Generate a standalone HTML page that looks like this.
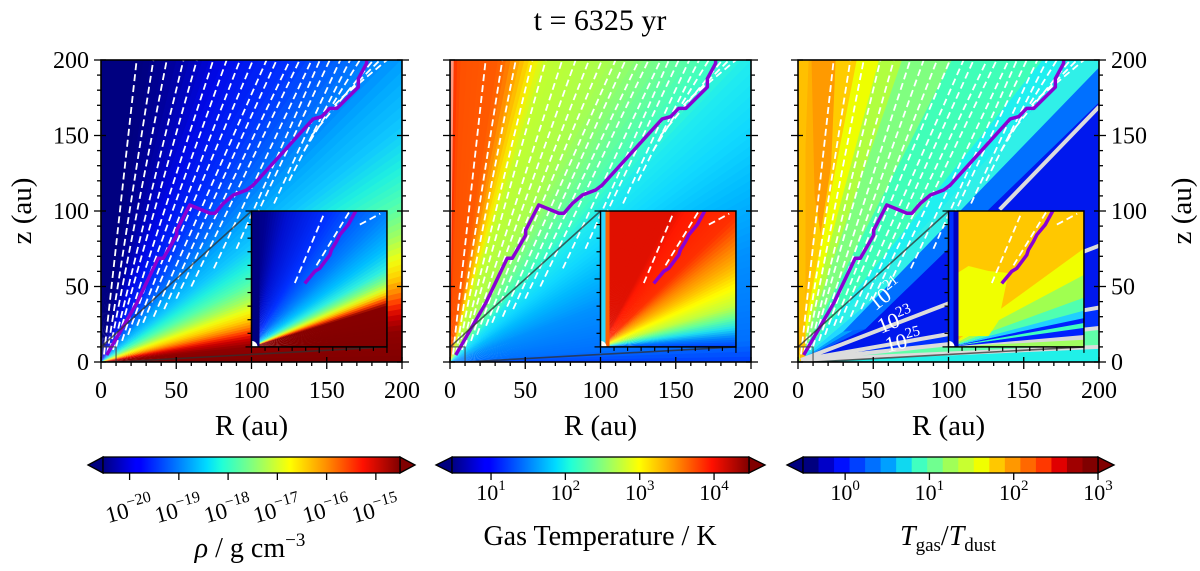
<!DOCTYPE html>
<html><head><meta charset="utf-8"><style>
html,body{margin:0;padding:0;background:#fff;}
svg{display:block;font-family:"Liberation Serif",serif;}
</style></head><body>
<svg id="fig" width="1200" height="571" viewBox="0 0 1200 571" xmlns="http://www.w3.org/2000/svg">
<defs id="defs"></defs>
<text x="600" y="30" font-size="30" text-anchor="middle">t = 6325 yr</text>
<g id="root"></g>
</svg>
<script>
// ---- data ----
const purpleR=[3.8,23.7,38,41.4,50.3,50.3,59,72.4,75.7,81.3,88,96.8,101,141,146.7,152,156.7,171,171,176.5,176.5];
const purpleZ=[4.6,38.9,68.7,68.7,84,87.4,104,98.5,98.5,105,110.6,113.9,117,161,162.5,168,168,182,187.6,197.8,200];
const insetPurpleR=[3.93,4.67,5.04,5.78,5.9,6.27,6.52,7.14,7.75];
const insetPurpleZ=[4.67,5.56,5.78,6.77,7.14,7.75,8.25,8.99,10.1];
const streamStartR=[2,4,6,8,10,14,18,24,28,35,42,50,60,75,90,100,115,125,135,140,150,160];
const streamStartZ=[5,5,8,8,10,14,18,24,26,30,35,42,50,62,75,90,105,120,140,150,165,175];
const streamEndR=[23.7,34.8,43.7,54.8,63.7,74.6,83.5,92.4,101,110,116.7,125.6,132,140,145.5,152,159,165.5,172,181,185.4,190];
const insetStreamR0=[3.2,4.8,8.0],insetStreamZ0=[4.7,6.0,9.0],insetStreamR1=[5.4,7.2,9.5],insetStreamZ1=[9.9,9.9,9.8];
const axisTicks=[0,50,100,150,200];
const cb1Exp=[-20,-19,-18,-17,-16,-15];
const cb2Exp=[1,2,3,4];
const cb3Exp=[0,1,2,3];
const cb3Bands=['#00007f','#0000c8','#0010ff','#0040ff','#0070ff','#00a0ff','#10d8f0','#40ffc0','#70ff90','#a0ff58','#c8ff30','#f0ff00','#ffc800','#ff9800','#ff6800','#ff3800','#e00000','#a00000','#800000'];
// ---- geometry ----
const PL=[101,450,798], PW=301, PT=60, PB=362;
const NS='http://www.w3.org/2000/svg';
const root=document.getElementById('root'), defs=document.getElementById('defs');
function X(p,R){return PL[p]+R*PW/200;}
function Y(z){return PB-z*(PB-PT)/200;}
function el(t,a,parent){const e=document.createElementNS(NS,t);for(const k in a)e.setAttribute(k,a[k]);(parent||root).appendChild(e);return e;}
function hex(c){return [parseInt(c.substr(1,2),16),parseInt(c.substr(3,2),16),parseInt(c.substr(5,2),16)];}
function mix(a,b,t){const A=hex(a),B=hex(b);return 'rgb('+A.map((v,i)=>Math.round(v+(B[i]-v)*t)).join(',')+')';}
function wedgeSmooth(g,ox,oy,pts,rad){
  for(let i=0;i<pts.length-1;i++){
    const [a0,c0]=pts[i],[a1,c1]=pts[i+1];
    const n=Math.max(1,Math.ceil((a1-a0)/1.2));
    for(let k=0;k<n;k++){
      const s=a0+(a1-a0)*k/n, e=a0+(a1-a0)*(k+1)/n+0.3;
      wedge(g,ox,oy,s,e,mix(c0,c1,(k+0.5)/n),rad);
    }
  }
}
function wedge(g,ox,oy,a0,a1,col,rad){
  const r0=a0*Math.PI/180,r1=a1*Math.PI/180;
  const p=el('polygon',{points:`${ox},${oy} ${ox+rad*Math.cos(r0)},${oy-rad*Math.sin(r0)} ${ox+rad*Math.cos(r1)},${oy-rad*Math.sin(r1)}`,fill:col},g);
  
  
}
function clip(id,x,y,w,h){const c=el('clipPath',{id:id},defs);el('rect',{x:x,y:y,width:w,height:h},c);}

const panelStops=[
 [[0,'#800000'],[6,'#900000'],[9,'#d00000'],[11,'#ff3000'],[13,'#ff8000'],[16,'#ffd000'],[19,'#f0ff10'],[23,'#a0ff60'],[28,'#50ffb0'],[33,'#20f0e0'],[38,'#10c8ff'],[44,'#00a8ff'],[50,'#0070ff'],[58,'#0030ff'],[68,'#0008e8'],[76,'#0000a0'],[82,'#000080'],[90,'#000080']],
 [[0,'#0040ff'],[4,'#0070ff'],[20,'#0090ff'],[30,'#00b8ff'],[38,'#10d8ff'],[45,'#20ecf0'],[49,'#40ffc0'],[55,'#70ff90'],[62,'#a8ff50'],[72,'#c0ff30'],[74.5,'#f8f000'],[77,'#ffb000'],[79.5,'#ff7000'],[81,'#ff5a00'],[88,'#ff5000'],[89.3,'#ff3000'],[90,'#ffffff']],
 null];
const p3Seg=[[0,3,'#20f0e8'],[3,6.4,'#60ffa8'],[6.4,10,'#0030ff'],[10,26,'#0018ee'],[26,30,'#0060ff'],[30,34,'#00a0ff'],[34,40,'#20d8ff'],[40,47,'#30f0e8'],[47,51,'#20f0f0'],[51,63,'#40ffb8'],[63,71,'#80ff80'],[71,75,'#b0ff40'],[75,79,'#eeff00'],[79,83,'#ffcc00'],[83,88,'#ffb000'],[88,90,'#ffc000']];
const insetStops=[
 [[0,'#800000'],[17,'#880000'],[19,'#ff4000'],[21,'#ffc000'],[23,'#e0ff20'],[26,'#80ff80'],[30,'#30f0e0'],[36,'#00c0ff'],[45,'#0080ff'],[60,'#0030ff'],[75,'#0010d0'],[84,'#000090'],[90,'#000080']],
 [[0,'#0040ff'],[4,'#0080ff'],[8,'#20e0f0'],[12,'#60ffa0'],[17,'#c0ff40'],[24,'#ffff00'],[30,'#ffc000'],[37,'#ff8000'],[44,'#ff3000'],[58,'#ff1800'],[62,'#e01000'],[88,'#e01000'],[89,'#e01000'],[90,'#e01000']],
 null];
const in3Seg=[[0,3,'#a0ff60'],[3,5,'#d8d8d8'],[5,8,'#0020ff'],[8,10,'#40ffc0'],[10,12,'#0020ff'],[12,15,'#20d0ff'],[15,20,'#50ffb0'],[20,28,'#a0ff50'],[28,36,'#f0ff00'],[36,90,'#ffc800']];

for(let p=0;p<3;p++){
  const g=el('g',{'clip-path':`url(#pc${p})`});
  
  
  clip('pc'+p,PL[p],PT,PW,PB-PT);
  const ox=X(p,0),oy=Y(0);
  if(panelStops[p]) wedgeSmooth(g,ox,oy,panelStops[p],700);
  else {
    p3Seg.forEach(s=>wedge(g,ox,oy,s[0],s[1]+0.3,s[2],700));
    const bl=[[30,20],[200,195],[200,172],[45,22]].map(q=>X(p,q[0])+','+Y(q[1])).join(' ');
    el('polygon',{points:bl,fill:'#0070ff'},g);
    const bb=[[45,17],[45,22],[200,172],[200,77]].map(q=>X(p,q[0])+','+Y(q[1])).join(' ');
    el('polygon',{points:bb,fill:'#0018ee'},g);
    // orange tapered strip near axis
    const os=[[9,200],[25,200],[22,130],[15,85],[11,110]].map(q=>X(p,q[0])+','+Y(q[1])).join(' ');
    el('polygon',{points:os,fill:'#ff9a00'},g);
    el('rect',{x:X(p,1),y:Y(200),width:4*PW/200,height:200*(PB-PT)/200,fill:'#ffc000'},g);
    // contour lines
    const cl=[[200,77],[200,36],[200,22.5],[200,10]];
    cl.forEach(c=>{const l=el('line',{x1:ox+3,y1:oy-2,x2:X(p,c[0]),y2:Y(c[1]),stroke:'#dcdcdc','stroke-width':4},g);});
    el('line',{x1:X(p,134),y1:Y(101),x2:X(p,200),y2:Y(169),stroke:'#dcdcdc','stroke-width':4},g);
  }
  // streamlines
  for(let i=0;i<streamEndR.length;i++){
    const s=el('line',{x1:X(p,streamStartR[i]),y1:Y(streamStartZ[i]),x2:X(p,streamEndR[i]),y2:Y(200),stroke:'#fff','stroke-width':1.8,'stroke-dasharray':'7 4'},g);
    
    
  }
  if(p===2){
    const labs=[['21',890,300,-38],['23',898,327,-22],['25',905,348,-14]];
    labs.forEach(L=>{const t=el('text',{x:L[1],y:L[2],fill:'#fff','font-size':22,'text-anchor':'middle',transform:`rotate(${L[3]} ${L[1]} ${L[2]})`},g);t.textContent='10';const s=el('tspan',{dy:-9,'font-size':15},t);s.textContent=L[0];});
  }
  // purple line
  const pp=purpleR.map((r,i)=>X(p,r)+','+Y(purpleZ[i])).join(' ');
  const pl=el('polyline',{points:pp,fill:'none',stroke:'#8a00d4','stroke-width':3.5,'stroke-linejoin':'round'},g);
  
  
  // zoom indicator lines
  el('rect',{x:X(p,0),y:Y(10),width:10*PW/200,height:10*(PB-PT)/200,fill:'none',stroke:'#404040','stroke-width':1.2,'stroke-opacity':0.8},g);
  el('line',{x1:X(p,0),y1:Y(10),x2:X(p,100),y2:Y(100),stroke:'#303030','stroke-width':1.6,'stroke-opacity':0.75},g);
  el('line',{x1:X(p,10),y1:Y(0),x2:X(p,190),y2:Y(10),stroke:'#303030','stroke-width':1.6,'stroke-opacity':0.75},g);

  // ---- inset ----
  const ix=X(p,100), iy=Y(100), iw=X(p,190)-ix, ih=Y(10)-iy;
  clip('ic'+p,ix,iy,iw,ih);
  const ig=el('g',{'clip-path':`url(#ic${p})`});
  
  
  el('rect',{x:ix,y:iy,width:iw,height:ih,fill:'#fff'},ig);
  const iox=ix, ioy=iy+ih;
  if(insetStops[p]) wedgeSmooth(ig,iox,ioy,insetStops[p],300);
  else in3Seg.forEach(s=>wedge(ig,iox,ioy,s[0],s[1]+0.3,s[2],300));
  if(p===0){el('rect',{x:ix,y:iy,width:8,height:ih,fill:'#000080'},ig);}
  if(p===1){el('rect',{x:ix,y:iy,width:5,height:ih,fill:'#30d8ff'},ig);el('rect',{x:ix+5,y:iy,width:4,height:ih,fill:'#ff6000'},ig);}
  if(p===2){
    const yp=[[9,62],[20,55],[40,60],[60,62],[50,110],[40,125],[9,125]].map(q=>(ix+q[0])+','+(iy+q[1])).join(' ');
    el('polygon',{points:yp,fill:'#f0ff00'},ig);
    el('rect',{x:ix,y:iy,width:5,height:ih,fill:'#0030ff'},ig);
    el('rect',{x:ix+5,y:iy,width:5,height:ih,fill:'#0000c0'},ig);
  }
  el('circle',{cx:iox,cy:ioy,r:6,fill:'#fff'},ig);
  for(let i=0;i<insetStreamR0.length;i++){
    const s=el('line',{x1:ix+insetStreamR0[i]*iw/10,y1:ioy-insetStreamZ0[i]*ih/10,x2:ix+insetStreamR1[i]*iw/10,y2:ioy-insetStreamZ1[i]*ih/10,stroke:'#fff','stroke-width':1.8,'stroke-dasharray':'7 4'},ig);
    
    
  }
  const ipp=insetPurpleR.map((r,i)=>(ix+r*iw/10)+','+(ioy-insetPurpleZ[i]*ih/10)).join(' ');
  el('polyline',{points:ipp,fill:'none',stroke:'#8a00d4','stroke-width':3.5},ig);
  const ifr=el('rect',{x:ix,y:iy,width:iw,height:ih,fill:'none',stroke:'#000','stroke-width':1.5});
  
  
  for(let k=0;k<=10;k++){
    const L=(k%5===0)?6:4;
    el('line',{x1:ix+k*iw/10,y1:ioy,x2:ix+k*iw/10,y2:ioy+L,stroke:'#000','stroke-width':1.2});
    el('line',{x1:ix,y1:ioy-k*ih/10,x2:ix-L,y2:ioy-k*ih/10,stroke:'#000','stroke-width':1.2});
  }

  // ---- axes ----
  const fr=el('rect',{x:PL[p],y:PT,width:PW,height:PB-PT,fill:'none',stroke:'#000','stroke-width':1.6});
  
  
  for(let v=0;v<=200;v+=10){
    const major=v%50===0, L=major?7:4;
    el('line',{x1:X(p,v),y1:PB-(major?5:0),x2:X(p,v),y2:PB+L,stroke:'#000','stroke-width':1.3});
    el('line',{x1:PL[p]+(major?5:0),y1:Y(v),x2:PL[p]-L,y2:Y(v),stroke:'#000','stroke-width':1.3});
    el('line',{x1:PL[p]+PW-(major?5:0),y1:Y(v),x2:PL[p]+PW+L,y2:Y(v),stroke:'#000','stroke-width':1.3});
  }
  axisTicks.forEach(v=>{
    const t=el('text',{x:X(p,v),y:398,'font-size':24,'text-anchor':'middle'});
    t.textContent=v;
    
    
    if(p!==1){
      const yt=el('text',{x:p===0?PL[p]-12:PL[p]+PW+12,y:Y(v)+8,'font-size':24,'text-anchor':p===0?'end':'start'});
      yt.textContent=v;
      
      
    }
  });
  const xl=el('text',{x:PL[p]+PW/2,y:435,'font-size':29,'text-anchor':'middle'});
  xl.textContent='R (au)';
  
  
}
const yl1=el('text',{x:0,y:0,'font-size':29,'text-anchor':'middle',transform:'translate(31,211) rotate(-90)'});
yl1.textContent='z (au)';


const yl2=el('text',{x:0,y:0,'font-size':29,'text-anchor':'middle',transform:'translate(1191,211) rotate(-90)'});
yl2.textContent='z (au)';



// ---- colorbars ----
const jet=[[0,'#000080'],[0.11,'#0000ff'],[0.125,'#0000ff'],[0.35,'#00dcff'],[0.4,'#20ffd8'],[0.5,'#80ff80'],[0.63,'#ffff00'],[0.75,'#ff9000'],[0.875,'#ff1000'],[1,'#800000']];
const lg=el('linearGradient',{id:'jet',x1:0,y1:0,x2:1,y2:0},defs);
jet.forEach(s=>el('stop',{offset:s[0],'stop-color':s[1]},lg));
function cbar(x0,x1,tipL,tipR,name){
  const g=el('g',{});
  
  
  el('polygon',{points:`${tipL},465 ${x0},457 ${x0},473`,fill:'#000080',stroke:'#000','stroke-width':1.3},g);
  el('polygon',{points:`${tipR},465 ${x1},457 ${x1},473`,fill:'#800000',stroke:'#000','stroke-width':1.3},g);
  return g;
}
// cb1
const g1=cbar(103,400,88,415,'density-colorbar');
el('rect',{x:103,y:457,width:297,height:16,fill:'url(#jet)',stroke:'#000','stroke-width':1.3},g1);
const c1lo=-20.54,c1hi=-14.51;
cb1Exp.forEach(e=>{
  const x=103+(e-c1lo)/(c1hi-c1lo)*297;
  el('line',{x1:x,y1:473,x2:x,y2:480,stroke:'#000','stroke-width':1.3},g1);
  const t=el('text',{x:x-1,y:517,'font-size':23,'text-anchor':'middle',transform:`rotate(-15 ${x} 507)`},g1);
  t.textContent='10';
  const s=el('tspan',{dy:-10,'font-size':16},t); s.textContent='\u2212'+Math.abs(e);
  
  
});
const l1=el('text',{x:250,y:557,'font-size':28,'text-anchor':'middle'},g1);
l1.innerHTML='<tspan font-style="italic">ρ</tspan> / g cm<tspan dy="-11" font-size="19">−3</tspan>';


// cb2
const g2=cbar(452,749,436,765,'temperature-colorbar');
el('rect',{x:452,y:457,width:297,height:16,fill:'url(#jet)',stroke:'#000','stroke-width':1.3},g2);
const c2lo=0.475,c2hi=4.47;
cb2Exp.forEach(e=>{
  const x=452+(e-c2lo)/(c2hi-c2lo)*297;
  el('line',{x1:x,y1:473,x2:x,y2:480,stroke:'#000','stroke-width':1.3},g2);
  const t=el('text',{x:x,y:500,'font-size':22,'text-anchor':'middle'},g2);
  t.textContent='10';
  const s=el('tspan',{dy:-10,'font-size':15},t); s.textContent=e;
  
  
});
const l2=el('text',{x:600,y:545,'font-size':28,'text-anchor':'middle'},g2);
l2.textContent='Gas Temperature / K';


// cb3 (discrete)
const g3=cbar(803,1098,787,1114,'temperature-ratio-colorbar');
const bw=295/cb3Bands.length;
cb3Bands.forEach((c,i)=>{const r=el('rect',{x:803+i*bw,y:457,width:bw+0.5,height:16,fill:c},g3);});
el('rect',{x:803,y:457,width:295,height:16,fill:'none',stroke:'#000','stroke-width':1.3},g3);
const c3lo=-0.5,c3hi=3;
cb3Exp.forEach(e=>{
  const x=803+(e-c3lo)/(c3hi-c3lo)*295;
  el('line',{x1:x,y1:473,x2:x,y2:480,stroke:'#000','stroke-width':1.3},g3);
  const t=el('text',{x:x,y:500,'font-size':22,'text-anchor':'middle'},g3);
  t.textContent='10';
  const s=el('tspan',{dy:-10,'font-size':15},t); s.textContent=e;
  
  
});
const l3=el('text',{x:948,y:545,'font-size':28,'text-anchor':'middle'},g3);
l3.innerHTML='<tspan font-style="italic">T</tspan><tspan dy="6" font-size="19">gas</tspan><tspan dy="-6">/</tspan><tspan font-style="italic">T</tspan><tspan dy="6" font-size="19">dust</tspan>';


</script>
</body></html>
